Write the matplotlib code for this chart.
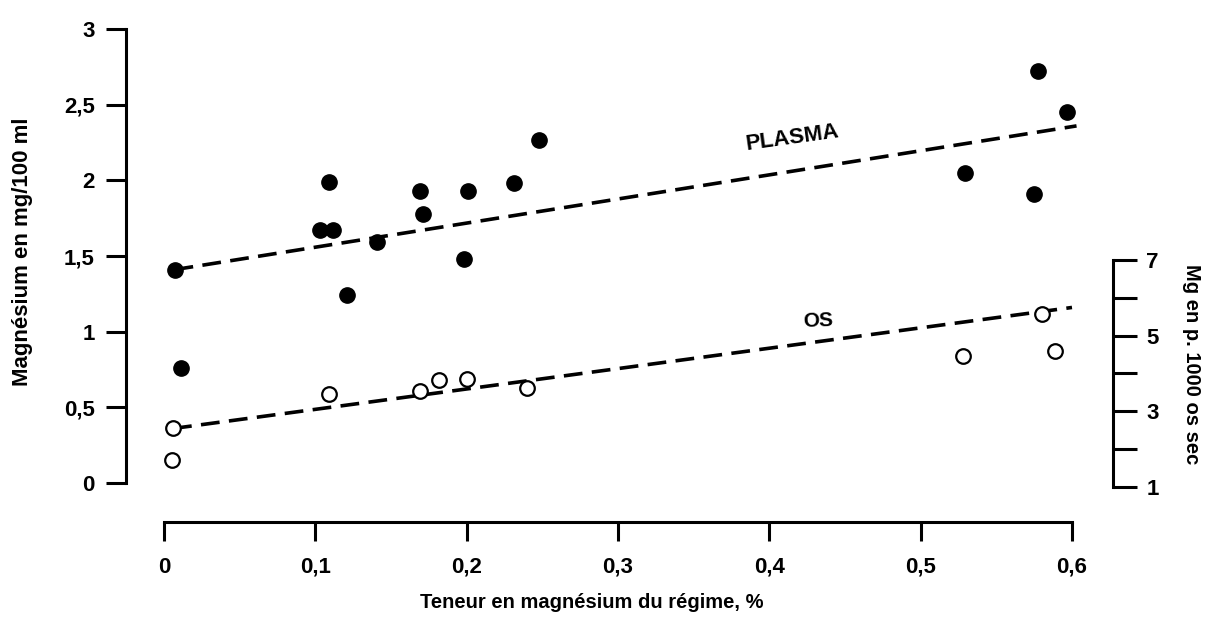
import matplotlib
matplotlib.use("Agg")
import matplotlib.pyplot as plt
from matplotlib.ticker import FixedLocator, FixedFormatter

# Plasma magnesium (mg/100 ml) against dietary Mg (%)
plasma_x = [0.007, 0.011, 0.103, 0.112, 0.109, 0.121, 0.141, 0.169, 0.171,
            0.198, 0.201, 0.231, 0.248, 0.529, 0.5775, 0.575, 0.597]
plasma_y = [1.41, 0.76, 1.67, 1.67, 1.99, 1.24, 1.59, 1.93, 1.78,
            1.48, 1.93, 1.98, 2.27, 2.05, 2.72, 1.91, 2.45]

# Bone magnesium, plotted on the left scale
os_x = [0.006, 0.005, 0.109, 0.169, 0.182, 0.200, 0.240, 0.528, 0.580, 0.589]
os_y = [0.36, 0.15, 0.59, 0.61, 0.68, 0.69, 0.63, 0.84, 1.12, 0.87]

# fitted lines (end points)
plasma_fit_x = [0.007, 0.603]
plasma_fit_y = [1.41, 2.36]
os_fit_x = [0.006, 0.600]
os_fit_y = [0.36, 1.16]

x_ticks = [0, 0.1, 0.2, 0.3, 0.4, 0.5, 0.6]
x_labels = ["0", "0,1", "0,2", "0,3", "0,4", "0,5", "0,6"]
y_ticks = [0, 0.5, 1, 1.5, 2, 2.5, 3]
y_labels = ["0", "0,5", "1", "1,5", "2", "2,5", "3"]
r_ticks = [1, 3, 5, 7]
r_labels = ["1", "3", "5", "7"]
r_minor = [2, 4, 6]

plt.rcParams["font.family"] = ["Liberation Sans", "DejaVu Sans"]
plt.rcParams["font.weight"] = "bold"

W, H = 1206, 624
fig = plt.figure(figsize=(W / 100, H / 100), dpi=100)

# axes box in pixels: left 126, right 1113, top 20, bottom 522
ax = fig.add_axes([126 / W, (H - 522) / H, (1113 - 126) / W, (522 - 20) / H])
ax.set_xlim(-0.0251, 0.6271)
ax.set_ylim(-0.258, 3.06)

lw_axis = 2.2
for s in ["top", "right"]:
    ax.spines[s].set_visible(False)
ax.spines["left"].set_bounds(0, 3)
ax.spines["bottom"].set_bounds(0, 0.6)
ax.spines["left"].set_linewidth(lw_axis)
ax.spines["bottom"].set_linewidth(lw_axis)

ax.xaxis.set_major_locator(FixedLocator(x_ticks))
ax.xaxis.set_major_formatter(FixedFormatter(x_labels))
ax.yaxis.set_major_locator(FixedLocator(y_ticks))
ax.yaxis.set_major_formatter(FixedFormatter(y_labels))
ax.tick_params(axis="y", direction="out", length=14.4, width=lw_axis, pad=8,
               labelsize=16)
ax.tick_params(axis="x", direction="out", length=14, width=lw_axis, pad=11,
               labelsize=16)

ax.plot(plasma_fit_x, plasma_fit_y, color="black", lw=2.6,
        dashes=(5.2, 2.6), dash_capstyle="butt", zorder=2)
ax.plot(os_fit_x, os_fit_y, color="black", lw=2.6,
        dashes=(5.2, 2.6), dash_capstyle="butt", zorder=2)
ax.plot(plasma_x, plasma_y, "o", color="black", ms=11, zorder=3)
ax.plot(os_x, os_y, "o", mfc="white", mec="black", mew=1.6, ms=10.5, zorder=3)

ax.text(0.415, 2.28, "PLASMA", fontsize=16, rotation=8, ha="center",
        va="center")
ax.text(0.432, 1.07, "OS", fontsize=15, rotation=2, ha="center", va="center")

# right scale for bone Mg
ax2 = ax.twinx()
ax2.set_ylim(0.075, 13.34)
for s in ["top", "left", "bottom"]:
    ax2.spines[s].set_visible(False)
ax2.spines["right"].set_bounds(1, 7)
ax2.spines["right"].set_linewidth(lw_axis)
ax2.yaxis.set_major_locator(FixedLocator(r_ticks))
ax2.yaxis.set_major_formatter(FixedFormatter(r_labels))
ax2.yaxis.set_minor_locator(FixedLocator(r_minor))
ax2.tick_params(axis="y", which="both", direction="out", length=17,
                width=lw_axis, pad=7, labelsize=16)

fig.text(23 / W, 1 - 252 / H, "Magnésium en mg/100 ml", rotation=90,
         ha="center", va="center", fontsize=16)
fig.text(592 / W, 1 - 602 / H, "Teneur en magnésium du régime, %",
         ha="center", va="center", fontsize=14.5)
fig.text(1192 / W, 1 - 364 / H, "Mg en p. 1000 os sec", rotation=-90,
         ha="center", va="center", fontsize=14.5)

fig.savefig("out.png", dpi=100)
